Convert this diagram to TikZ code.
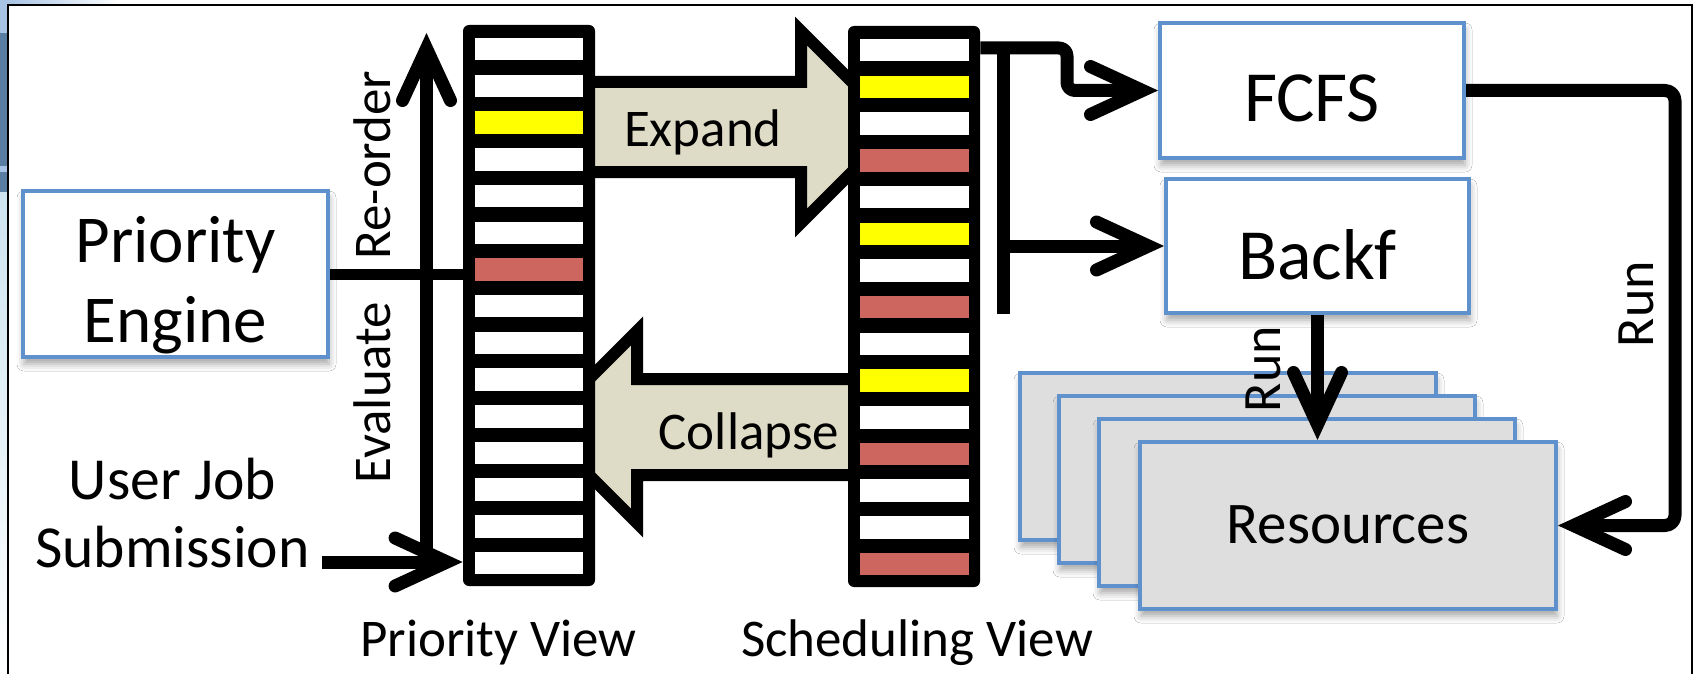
\documentclass[tikz,border=0pt]{standalone}
\usepackage{fontspec}
\setmainfont{Carlito}
\usetikzlibrary{arrows.meta,shadows.blur}
\definecolor{bluebd}{RGB}{95,145,205}
\definecolor{cellyel}{RGB}{255,255,0}
\definecolor{cellred}{RGB}{205,102,95}
\definecolor{beige}{RGB}{222,219,198}
\definecolor{resgray}{RGB}{222,222,222}
\definecolor{slidelt}{RGB}{168,196,228}
\definecolor{slidedk}{RGB}{90,126,162}
\definecolor{slidepale}{RGB}{205,228,240}
\newcommand\mytwo[2]{\begin{tabular}[t]{@{}c@{}}#1\\#2\end{tabular}}
\begin{document}
\begin{tikzpicture}[x=0.5pt,y=-0.5pt,
  shad/.style={blur shadow={shadow xshift=0.5pt,shadow yshift=-3.5pt,shadow blur radius=3.5pt,shadow opacity=35}},
  bx/.style={draw=bluebd,line width=2pt,fill=white,inner sep=0pt,shad},
  resbox/.style={bx,fill=resgray,minimum width=208pt,minimum height=83.5pt},
  col/.style={fill=black,rounded corners=3pt,minimum width=66pt,minimum height=280.5pt,inner sep=0pt},
  conn/.style={line width=6.5pt,line join=round},
  arr/.style={conn,-{Straight Barb[length=26pt,width=24pt,line cap=round,line join=miter]}},
  blockarr/.style={draw=black,fill=beige,line width=6pt,line join=miter},
  lbl/.style={font=\fontsize{26.5}{32}\selectfont,inner sep=0pt},
]
\useasboundingbox (0,0) rectangle (1697,674);
\fill[white] (0,0) rectangle (1697,674);
% slide remnants
\fill[slidelt] (0,0) rectangle (8,33);
\fill[slidedk] (0,33) rectangle (8,166);
\fill[slidelt] (0,166) rectangle (8,172);
\fill[slidedk] (0,172) rectangle (8,192);
\shade[top color=slidepale,bottom color=white] (0,192) rectangle (8,674);
\shade[left color=slidelt,right color=white] (8,0) rectangle (120,5);
\draw[line width=1pt] (8,674) -- (8,5) -- (1692,5) -- (1692,674);

% block arrows
\draw[blockarr] (590,82) -- (801,82) -- (801,31) -- (897,127) -- (801,223) -- (801,172) -- (590,172);
\draw[blockarr] (853,379) -- (637,379) -- (637,331) -- (541,427) -- (637,523) -- (637,475) -- (853,475);
\node[lbl,anchor=base] (expand) at (703,147) {Expand};
\node[lbl,anchor=base] (collapse) at (749,449) {Collapse};

% columns
\node[col] (pv) at (529,305.5) {};
\node[col] (sv) at (914,306.5) {};
\foreach \i/\c in {0/white,1/white,2/cellyel,3/white,4/white,5/white,6/cellred,7/white,8/white,9/white,10/white,11/white,12/white,13/white,14/white}
  \fill[\c] (475,{38+36.7*\i}) rectangle ++(108,22.5);
\foreach \i/\c in {0/white,1/cellyel,2/white,3/cellred,4/white,5/cellyel,6/white,7/cellred,8/white,9/cellyel,10/white,11/cellred,12/white,13/white,14/cellred}
  \fill[\c] (860,{39+36.7*\i}) rectangle ++(108.5,22.5);
\node[lbl,anchor=base] (pvlabel) at (498.5,656) {Priority View};
\node[lbl,anchor=base] (svlabel) at (917,656) {Scheduling View};

% boxes
\node[bx,minimum width=152.5pt,minimum height=83pt,font=\fontsize{33.5}{40}\selectfont,text height=20pt,text depth=32pt] (pe) at (175.5,274) {\mytwo{Priority}{Engine}};
\node[bx,minimum width=152pt,minimum height=67.5pt,font=\fontsize{36}{43}\selectfont,text height=31.2pt,text depth=0pt] (fcfs) at (1312,90.5) {FCFS};
\node[bx,minimum width=151.5pt,minimum height=67pt,font=\fontsize{36}{43}\selectfont,text height=33.3pt,text depth=0pt] (backf) at (1317.5,246) {Backf};
\node[resbox] (res1) at (1228,456.5) {};
\node[resbox] (res2) at (1267,479.5) {};
\node[resbox] (res3) at (1307,502.5) {};
\node[resbox,font=\fontsize{29.5}{35}\selectfont,text height=18.4pt,text depth=0pt] (res) at (1348,525.5) {Resources};
\node[anchor=base,inner sep=0pt,font=\fontsize{29.8}{34}\selectfont] (ujs) at (172.5,499) {\mytwo{User Job}{Submission}};

% connectors
\draw[line width=5.5pt] (pe.east) -- (pe.east -| pv.west);
\coordinate (evbot) at (426.5,549);
\coordinate (evtop) at (426.5,33);
\draw[arr] (evbot) -- (evtop);
\node[lbl,rotate=90,anchor=base] (reorder) at (390,165) {Re-order};
\node[lbl,rotate=90,anchor=base] (evaluate) at (390,392.5) {Evaluate};
\coordinate (ujsout) at (322,562);
\draw[arr] (ujsout) -- (ujsout -| pv.west);
\coordinate (svout) at (sv.east |- 0,48);
\coordinate (jog) at (1067,48);
\draw[arr,rounded corners=4pt] (svout) -- (jog) -- (jog |- fcfs.west) -- (fcfs.west);
\coordinate (tbtop) at (1003,48);
\coordinate (tbbot) at (1003,314);
\draw[conn,line cap=butt] (tbtop) -- (tbbot);
\draw[arr] (tbtop |- backf.west) -- (backf.west);
\coordinate (rc) at (1675,0);
\draw[arr,rounded corners=5pt] (fcfs.east) -- (fcfs.east -| rc) -- (rc |- res.east) -- (res.east);
\node[lbl,font=\fontsize{27}{32}\selectfont,rotate=90,anchor=base] (run1) at (1653,304) {Run};
\draw[arr] (backf.south) -- (backf.south |- res.north);
\node[lbl,font=\fontsize{27}{32}\selectfont,rotate=90,anchor=base] (run2) at (1280,369) {Run};
\end{tikzpicture}
\end{document}
